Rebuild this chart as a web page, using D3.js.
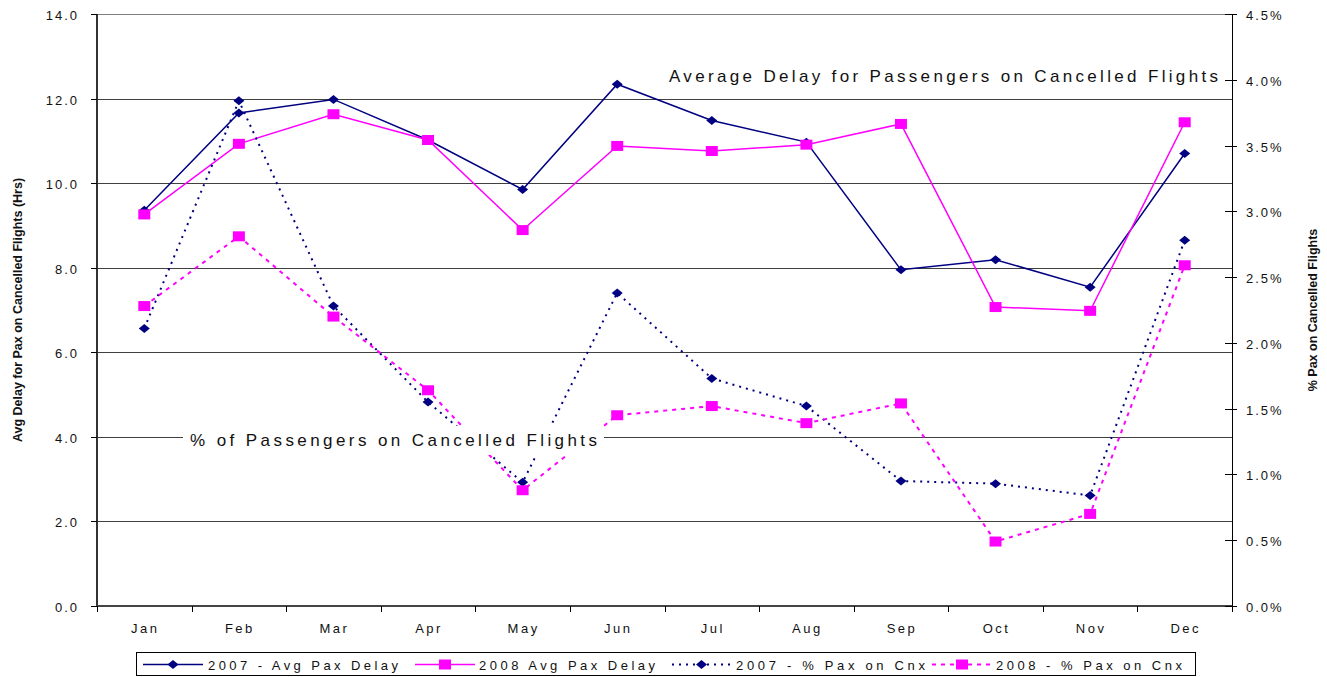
<!DOCTYPE html>
<html><head><meta charset="utf-8">
<script src="https://cdn.jsdelivr.net/npm/d3@7"></script>
<style>
body{margin:0;background:#fff;}
svg{display:block;font-family:"Liberation Sans",Arial,sans-serif;}
</style></head>
<body><svg id="c" width="1327" height="677"></svg>
<script>
const months = ["Jan","Feb","Mar","Apr","May","Jun","Jul","Aug","Sep","Oct","Nov","Dec"];
const delay2007 = [9.36,11.66,11.98,11.02,9.85,12.34,11.48,10.97,7.95,8.19,7.54,10.70];
const delay2008 = [9.26,10.93,11.63,11.02,8.89,10.88,10.76,10.91,11.40,7.07,6.98,11.44];
const pct2007 = [0.0211,0.0384,0.0228,0.0155,0.0094,0.0238,0.0173,0.0152,0.0095,0.0093,0.0084,0.0278];
const pct2008 = [0.0228,0.0281,0.0220,0.0164,0.0088,0.0145,0.0152,0.0139,0.0154,0.0049,0.0070,0.0259];
const leftTicks = [0,2,4,6,8,10,12,14];
const rightTicks = [0,0.005,0.01,0.015,0.02,0.025,0.03,0.035,0.04,0.045];
const seriesNames = ["2007 - Avg Pax Delay","2008 Avg Pax Delay","2007 - % Pax on Cnx","2008 - % Pax on Cnx"];

const L=97,R=1232,T=14,B=606;
const svg=d3.select("#c");
const x=d3.scaleBand().domain(months).range([L,R]);
const yL=d3.scaleLinear().domain([0,14]).range([B,T]);
const yR=d3.scaleLinear().domain([0,0.045]).range([B,T]);
const NAVY="#000080",MAG="#FF00FF";

// gridlines
svg.append("g").selectAll("line").data(leftTicks.filter(d=>d>0)).join("line")
  .attr("x1",L).attr("x2",R)
  .attr("y1",d=>Math.round(yL(d))+0.5).attr("y2",d=>Math.round(yL(d))+0.5)
  .attr("stroke",d=>d===14?"#808080":"#404040").attr("stroke-width",1);

// series
const series=[
  {v:delay2007,y:yL,c:NAVY,m:"diamond",dash:null},
  {v:delay2008,y:yL,c:MAG,m:"square",dash:null},
  {v:pct2007,y:yR,c:NAVY,m:"diamond",dash:"2,5"},
  {v:pct2008,y:yR,c:MAG,m:"square",dash:"4,5"}
];
const cx=m=>x(m)+x.bandwidth()/2;
const diamond="M0,-4.5L5.5,0L0,4.5L-5.5,0Z";
const square="M-6,-5H6V5H-6Z";
series.forEach(s=>{
  const line=d3.line().x((d,i)=>cx(months[i])).y(d=>s.y(d));
  svg.append("path").attr("d",line(s.v)).attr("fill","none")
    .attr("stroke",s.c).attr("stroke-width",s.dash?2:1.5)
    .attr("stroke-dasharray",s.dash);
});
series.forEach(s=>{
  svg.append("g").selectAll("path").data(s.v).join("path")
    .attr("transform",(d,i)=>`translate(${cx(months[i])},${s.y(d)})`)
    .attr("d",s.m==="diamond"?diamond:square).attr("fill",s.c);
});

// annotations (white boxes)
function annot(txt,x0,x1,base,fs){
  svg.append("rect").attr("x",x0-7).attr("y",base-fs-3).attr("width",x1-x0+14).attr("height",fs+12).attr("fill","#fff");
  svg.append("text").attr("x",x0).attr("y",base).attr("font-size",fs).attr("fill","#111")
    .attr("textLength",x1-x0).attr("lengthAdjust","spacing").text(txt);
}
annot("Average Delay for Passengers on Cancelled Flights",669,1218,82,17);
annot("% of Passengers on Cancelled Flights",190,597,446,17);

// axes
svg.append("line").attr("x1",L).attr("x2",L).attr("y1",T).attr("y2",B).attr("stroke","#333").attr("stroke-width",2);
svg.append("line").attr("x1",R+0.5).attr("x2",R+0.5).attr("y1",T).attr("y2",B+6).attr("stroke","#000").attr("stroke-width",1);
svg.append("line").attr("x1",L-1).attr("x2",R).attr("y1",B).attr("y2",B).attr("stroke","#444").attr("stroke-width",2);

// left ticks
const gl=svg.append("g");
leftTicks.forEach(t=>{
  const yy=Math.round(yL(t))+0.5;
  gl.append("line").attr("x1",L-6).attr("x2",L).attr("y1",yy).attr("y2",yy).attr("stroke","#000");
  gl.append("text").attr("x",79).attr("y",yy+5).attr("text-anchor","end").attr("font-size",13)
    .attr("letter-spacing","2px").attr("fill","#111").text(d3.format(".1f")(t));
});
// right ticks
rightTicks.forEach(t=>{
  const yy=Math.round(yR(t))+0.5;
  gl.append("line").attr("x1",R-7).attr("x2",R+5).attr("y1",yy).attr("y2",yy).attr("stroke","#000");
  gl.append("text").attr("x",1246).attr("y",yy+5).attr("font-size",13)
    .attr("letter-spacing","2px").attr("fill","#111").text(d3.format(".1%")(t));
});
// x ticks
const bounds=months.map(m=>x(m)).concat([R]);
bounds.forEach(b=>{
  gl.append("line").attr("x1",Math.round(b)+0.5).attr("x2",Math.round(b)+0.5).attr("y1",B).attr("y2",B+6).attr("stroke","#000");
});
months.forEach(m=>{
  gl.append("text").attr("x",cx(m)+1).attr("y",633).attr("text-anchor","middle").attr("font-size",13)
    .attr("letter-spacing","2.5px").attr("fill","#111").text(m);
});

// axis titles
svg.append("text").attr("transform",`translate(22,${(T+B)/2}) rotate(-90)`).attr("text-anchor","middle")
  .attr("font-size",12.5).attr("font-weight","bold").attr("fill","#111")
  .text("Avg Delay for Pax on Cancelled Flights (Hrs)");
svg.append("text").attr("transform",`translate(1317,${(T+B)/2}) rotate(-90)`).attr("text-anchor","middle")
  .attr("font-size",12.5).attr("font-weight","bold").attr("fill","#111")
  .text("% Pax on Cancelled Flights");

// legend
svg.append("rect").attr("x",136.5).attr("y",652.5).attr("width",1059).attr("height",23)
  .attr("fill","#fff").attr("stroke","#000").attr("stroke-width",1);
const legX=[[143,203,208,398],[415,475,479,655],[672,731,736,925],[932,992,996,1182]];
series.forEach((s,i)=>{
  const [a,b,t0,t1]=legX[i];
  const yy=664.5;
  svg.append("line").attr("x1",a).attr("x2",b).attr("y1",yy).attr("y2",yy)
    .attr("stroke",s.c).attr("stroke-width",s.dash?2:1.5).attr("stroke-dasharray",s.dash);
  svg.append("path").attr("transform",`translate(${(a+b)/2},${yy})`).attr("d",s.m==="diamond"?diamond:square).attr("fill",s.c);
  svg.append("text").attr("x",t0).attr("y",yy+5).attr("font-size",13).attr("fill","#111")
    .attr("textLength",t1-t0).attr("lengthAdjust","spacing").text(seriesNames[i]);
});
</script></body></html>
